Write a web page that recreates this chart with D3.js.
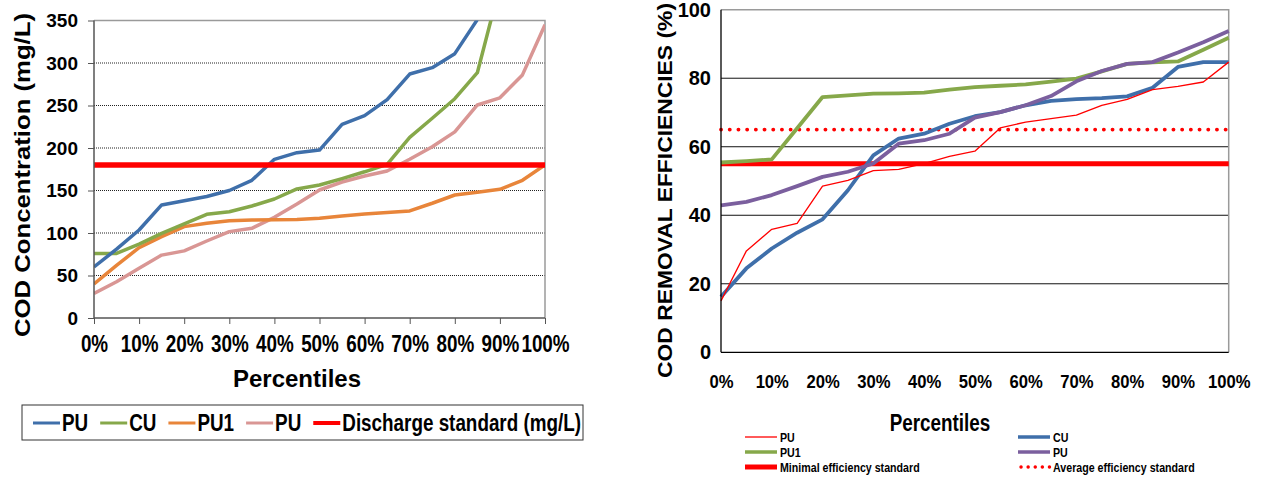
<!DOCTYPE html>
<html>
<head>
<meta charset="utf-8">
<script src="https://cdn.jsdelivr.net/npm/d3@7"></script>
<style>
  body { margin: 0; background: #fff; }
  svg { font-family: "Liberation Sans", Arial, sans-serif; font-weight: bold; }
  .domain { stroke: none; }
</style>
</head>
<body>
<svg id="chart" width="1263" height="477"></svg>
<script>
// percentiles on the x axis
var pct = [0, 5, 10, 15, 20, 25, 30, 35, 40, 45, 50, 55, 60, 65, 70, 75, 80, 85, 90, 95, 100];
var pctTicks = [0, 10, 20, 30, 40, 50, 60, 70, 80, 90, 100];

// left: COD concentration (mg/L)
var concTicks = [0, 50, 100, 150, 200, 250, 300, 350];
var concPU  = [60, 81, 103.5, 133, 138, 143, 150, 162, 186.7, 194.5, 197.6, 227.8, 238, 257, 287, 294.5, 311, 351];
var concCU  = [76, 76, 87, 99.6, 110.6, 122, 125, 131.8, 140, 151.8, 156.5, 164, 172, 180.8, 212.6, 235, 258, 288.6, 391];
var concPU1 = [40, 62, 82.7, 95.7, 107.5, 111.4, 114.5, 115.3, 115.5, 116, 117.3, 120, 122.4, 124, 126, 135, 144.7, 148, 151.4, 162, 180];
var concPU2 = [29, 42.7, 58.4, 74, 79, 90.6, 101.6, 105.5, 118.4, 134, 150.6, 160, 167, 173, 186.7, 201.5, 219, 250.6, 259, 286, 345];
var discharge = 180;

// right: COD removal efficiencies (%)
var effTicks = [0, 20, 40, 60, 80, 100];
var effPU  = [15, 29.6, 35.9, 37.6, 48.5, 50.2, 53, 53.4, 55.1, 57.2, 58.7, 65.5, 67.2, 68.2, 69.2, 72.1, 73.8, 76.7, 77.6, 78.9, 84.7];
var effCU  = [16.2, 24.5, 30.3, 34.9, 38.8, 47.3, 57.5, 62.4, 63.8, 66.7, 68.9, 70.1, 72.1, 73.4, 73.9, 74.2, 74.7, 77.2, 83.3, 84.7, 84.7];
var effPU1 = [55.4, 55.8, 56.3, 65.4, 74.5, 75.0, 75.5, 75.6, 75.8, 76.7, 77.4, 77.8, 78.2, 79.0, 79.9, 82.0, 84.2, 84.6, 84.9, 88.3, 91.8];
var effPU2 = [42.9, 43.9, 45.9, 48.5, 51.2, 52.7, 55.1, 60.9, 61.9, 63.8, 68.5, 70.1, 72.1, 74.8, 79.1, 82.1, 84.2, 84.7, 87.5, 90.5, 93.8];
var minStd = 55, avgStd = 65;

var svg = d3.select("#chart");
var NARROW = 0.82;

function lineOf(x, y, vals) {
  return d3.line().x(function (d, i) { return x(pct[i]); }).y(function (d) { return y(d); })(vals);
}

function narrowText(g, x, y, str, size, anchor, sx) {
  return g.append("text")
    .attr("transform", "translate(" + x + "," + y + ") scale(" + (sx || NARROW) + ",1)")
    .attr("text-anchor", anchor || "start")
    .style("font-size", size + "px")
    .text(str);
}

//
// LEFT CHART
//
var xL = d3.scaleLinear().domain([0, 100]).range([94, 545]);
var yL = d3.scaleLinear().domain([0, 350]).range([318, 20.5]);

var left = svg.append("g");

left.append("defs").append("clipPath").attr("id", "clipL")
  .append("rect").attr("x", 94).attr("y", 20.5).attr("width", 451).attr("height", 297.5);

// dotted grid
left.selectAll(".gridL").data(concTicks.slice(1, -1)).enter().append("line")
  .attr("x1", xL(0)).attr("x2", xL(100))
  .attr("y1", function (d) { return yL(d); }).attr("y2", function (d) { return yL(d); })
  .attr("stroke", "#222").attr("stroke-width", 1).attr("stroke-dasharray", "1,1");

// frame top / right
left.append("path")
  .attr("d", "M" + xL(0) + "," + yL(350) + "H" + xL(100) + "V" + yL(0))
  .attr("fill", "none").attr("stroke", "#9a9a9a").attr("stroke-width", 1.5);

var series = [
  { v: concPU2, c: "#d99694" },
  { v: concPU1, c: "#e8853a" },
  { v: concCU,  c: "#86a84a" },
  { v: concPU,  c: "#3f6faa" }
];
var plotL = left.append("g").attr("clip-path", "url(#clipL)");
series.forEach(function (s) {
  plotL.append("path").attr("d", lineOf(xL, yL, s.v))
    .attr("fill", "none").attr("stroke", s.c).attr("stroke-width", 3.5)
    .attr("stroke-linejoin", "round");
});
left.append("line")
  .attr("x1", xL(0)).attr("x2", xL(100)).attr("y1", yL(discharge)).attr("y2", yL(discharge))
  .attr("stroke", "#ff0000").attr("stroke-width", 5.5);

// axes
var yAxL = left.append("g").attr("transform", "translate(" + xL(0) + ",0)")
  .call(d3.axisLeft(yL).tickValues(concTicks).tickSize(6).tickPadding(10));
yAxL.selectAll("text").style("font-size", "19px").attr("fill", "#000");
yAxL.selectAll("line").attr("stroke", "#555");
left.append("line").attr("x1", xL(0)).attr("x2", xL(0)).attr("y1", yL(350)).attr("y2", yL(0))
  .attr("stroke", "#555").attr("stroke-width", 1.5);

var xAxL = left.append("g").attr("transform", "translate(0," + yL(0) + ")")
  .call(d3.axisBottom(xL).tickValues(pctTicks).tickSize(6).tickPadding(12)
    .tickFormat(function (d) { return d + "%"; }));
xAxL.selectAll("text").style("font-size", "23px").attr("fill", "#000")
  .attr("transform", "scale(" + NARROW + ",1)");
xAxL.selectAll("line").attr("stroke", "#555");
left.append("line").attr("x1", xL(0)).attr("x2", xL(100)).attr("y1", yL(0)).attr("y2", yL(0))
  .attr("stroke", "#555").attr("stroke-width", 1.5);

// titles
left.append("text")
  .attr("transform", "translate(30,175) rotate(-90)")
  .attr("text-anchor", "middle")
  .attr("textLength", 324).attr("lengthAdjust", "spacingAndGlyphs")
  .style("font-size", "22px")
  .text("COD Concentration (mg/L)");
left.append("text")
  .attr("x", 297).attr("y", 387).attr("text-anchor", "middle")
  .style("font-size", "24px").text("Percentiles");

// legend
left.append("rect").attr("x", 22).attr("y", 405).attr("width", 561).attr("height", 35)
  .attr("fill", "none").attr("stroke", "#333").attr("stroke-width", 1);
var legL = [
  { n: "PU", c: "#3f6faa", w: 3 },
  { n: "CU", c: "#86a84a", w: 3 },
  { n: "PU1", c: "#e8853a", w: 3 },
  { n: "PU", c: "#d99694", w: 3 },
  { n: "Discharge standard (mg/L)", c: "#ff0000", w: 4 }
];
var lx = 33;
legL.forEach(function (d) {
  left.append("line").attr("x1", lx).attr("x2", lx + 27).attr("y1", 423).attr("y2", 423)
    .attr("stroke", d.c).attr("stroke-width", d.w);
  var t = narrowText(left, lx + 29, 431, d.n, 23);
  lx += 29 + t.node().getComputedTextLength() * NARROW + 12;
});

//
// RIGHT CHART
//
var xR = d3.scaleLinear().domain([0, 100]).range([721, 1228.7]);
var yR = d3.scaleLinear().domain([0, 100]).range([352.3, 9.7]);
var right = svg.append("g");

right.selectAll(".gridR").data(effTicks.slice(1, -1)).enter().append("line")
  .attr("x1", xR(0)).attr("x2", xR(100))
  .attr("y1", function (d) { return yR(d); }).attr("y2", function (d) { return yR(d); })
  .attr("stroke", "#111").attr("stroke-width", 1);

right.append("path")
  .attr("d", "M" + xR(0) + "," + yR(100) + "H" + xR(100) + "V" + yR(0))
  .attr("fill", "none").attr("stroke", "#9a9a9a").attr("stroke-width", 1.5);

right.append("line")
  .attr("x1", xR(0)).attr("x2", xR(100)).attr("y1", yR(avgStd)).attr("y2", yR(avgStd))
  .attr("stroke", "#ff0000").attr("stroke-width", 3.8)
  .attr("stroke-linecap", "round").attr("stroke-dasharray", "0.1,8.6");
right.append("line")
  .attr("x1", xR(0)).attr("x2", xR(100)).attr("y1", yR(minStd)).attr("y2", yR(minStd))
  .attr("stroke", "#ff0000").attr("stroke-width", 5);

var seriesR = [
  { v: effPU1, c: "#86a84a", w: 3.8 },
  { v: effCU,  c: "#3f6faa", w: 3.8 },
  { v: effPU2, c: "#7b5f9e", w: 3.8 },
  { v: effPU,  c: "#ff0000", w: 1.3 }
];
seriesR.forEach(function (s) {
  right.append("path").attr("d", lineOf(xR, yR, s.v))
    .attr("fill", "none").attr("stroke", s.c).attr("stroke-width", s.w)
    .attr("stroke-linejoin", "round");
});

var yAxR = right.append("g").attr("transform", "translate(" + xR(0) + ",0)")
  .call(d3.axisLeft(yR).tickValues(effTicks).tickSize(0).tickPadding(10));
yAxR.selectAll("text").style("font-size", "20px").attr("fill", "#000");
right.append("line").attr("x1", xR(0)).attr("x2", xR(0)).attr("y1", yR(100)).attr("y2", yR(0))
  .attr("stroke", "#000").attr("stroke-width", 1.3);

var xAxR = right.append("g").attr("transform", "translate(0," + yR(0) + ")")
  .call(d3.axisBottom(xR).tickValues(pctTicks).tickSize(0).tickPadding(23)
    .tickFormat(function (d) { return d + "%"; }));
xAxR.selectAll("text").style("font-size", "18.5px").attr("fill", "#000")
  .attr("transform", "scale(0.9,1)");
right.append("line").attr("x1", xR(0)).attr("x2", xR(100)).attr("y1", yR(0)).attr("y2", yR(0))
  .attr("stroke", "#000").attr("stroke-width", 1.3);

right.append("text")
  .attr("transform", "translate(672,190.5) rotate(-90)")
  .attr("text-anchor", "middle")
  .attr("textLength", 375).attr("lengthAdjust", "spacingAndGlyphs")
  .style("font-size", "19.5px")
  .text("COD REMOVAL EFFICIENCIES (%)");
narrowText(right, 940, 431, "Percentiles", 23, "middle");

var legR = [
  { n: "PU", c: "#ff0000", w: 1.3, x: 745, y: 437 },
  { n: "CU", c: "#3f6faa", w: 3.5, x: 1018, y: 437 },
  { n: "PU1", c: "#86a84a", w: 3.5, x: 745, y: 452 },
  { n: "PU", c: "#7b5f9e", w: 3.5, x: 1018, y: 452 },
  { n: "Minimal efficiency standard", c: "#ff0000", w: 5, x: 745, y: 467 },
  { n: "Average efficiency standard", c: "#ff0000", w: 3.4, x: 1018, y: 467, dot: true }
];
legR.forEach(function (d) {
  var ln = right.append("line").attr("x1", d.x).attr("x2", d.x + 32).attr("y1", d.y).attr("y2", d.y)
    .attr("stroke", d.c).attr("stroke-width", d.w);
  if (d.dot) ln.attr("stroke-linecap", "round").attr("stroke-dasharray", "0.1,7").attr("x1", d.x + 3);
  narrowText(right, d.x + 35, d.y + 5, d.n, 13);
});
</script>
</body>
</html>
